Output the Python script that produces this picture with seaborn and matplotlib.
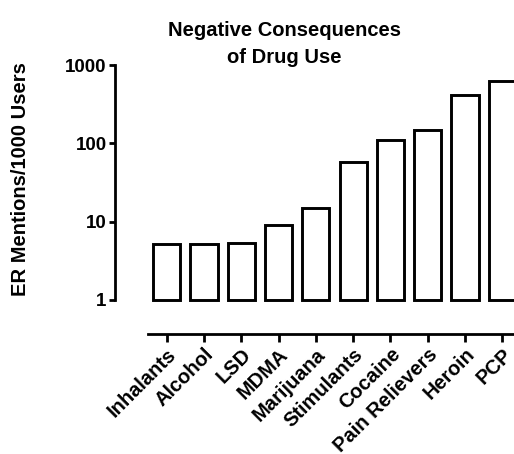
import matplotlib
matplotlib.use("Agg")
import matplotlib.pyplot as plt
import seaborn as sns
import numpy as np
import pandas as pd

drugs = ["Inhalants", "Alcohol", "LSD", "MDMA", "Marijuana", "Stimulants",
         "Cocaine", "Pain Relievers", "Heroin", "PCP"]
er_mentions = [5.2, 5.2, 5.3, 9.1, 15.1, 58, 111, 146, 415, 620]
baseline = 1
y_ticks = [1, 10, 100, 1000]
y_tick_labels = ["1", "10", "100", "1000"]
title = "Negative Consequences\nof Drug Use"
ylabel = "ER Mentions/1000 Users"

sns.set_style("ticks", rc={"text.color": "black", "axes.labelcolor": "black",
                           "xtick.color": "black", "ytick.color": "black",
                           "axes.edgecolor": "black"})
plt.rcParams["font.family"] = ["Liberation Sans", "DejaVu Sans"]
plt.rcParams["font.weight"] = "bold"

W, H, DPI = 514, 454, 100
fig = plt.figure(figsize=(W / DPI, H / DPI), dpi=DPI)
ax = fig.add_axes([148 / W, 1 - 333.5 / H, 373 / W, (333.5 - 65) / H])

df = pd.DataFrame({"drug": drugs, "height": np.array(er_mentions) - baseline})
sns.barplot(data=df, x="drug", y="height", ax=ax, color="white", saturation=1,
            edgecolor="black", linewidth=2.1, width=0.73, bottom=baseline)

ax.set_yscale("log")
ax.set_ylim(0.373, 1000)
ax.set_xlim(-0.5, 9.5)
ax.set_yticks(y_ticks)
ax.set_yticklabels(y_tick_labels)
ax.yaxis.set_minor_locator(matplotlib.ticker.NullLocator())

for s in ["top", "right"]:
    ax.spines[s].set_visible(False)
ax.spines["left"].set_position(("outward", 33 * 72 / DPI))
ax.spines["left"].set_bounds(1, 1000)
ax.spines["left"].set_linewidth(2)
ax.spines["bottom"].set_linewidth(2)

ax.tick_params(axis="y", length=4, width=2, pad=2, labelsize=13.5, colors="black")
ax.tick_params(axis="x", length=6, width=2, pad=2, labelsize=14.5, colors="black")
for lab in ax.get_xticklabels():
    lab.set_rotation(45)
    lab.set_ha("right")
    lab.set_rotation_mode("anchor")
    lab.set_fontweight("bold")
for lab in ax.get_yticklabels():
    lab.set_fontweight("bold")

ax.set_xlabel("")
ax.set_ylabel(ylabel, fontsize=14.5, fontweight="bold", color="black")
ax.yaxis.label.set_va("center")
ax.yaxis.set_label_coords(21 / W, 1 - 179 / H, transform=fig.transFigure)

fig.text(284 / W, 1 - 21 / H, title, ha="center", va="top", fontsize=14.5,
         fontweight="bold", linespacing=1.55, color="black")

fig.savefig("out.png", dpi=DPI)
